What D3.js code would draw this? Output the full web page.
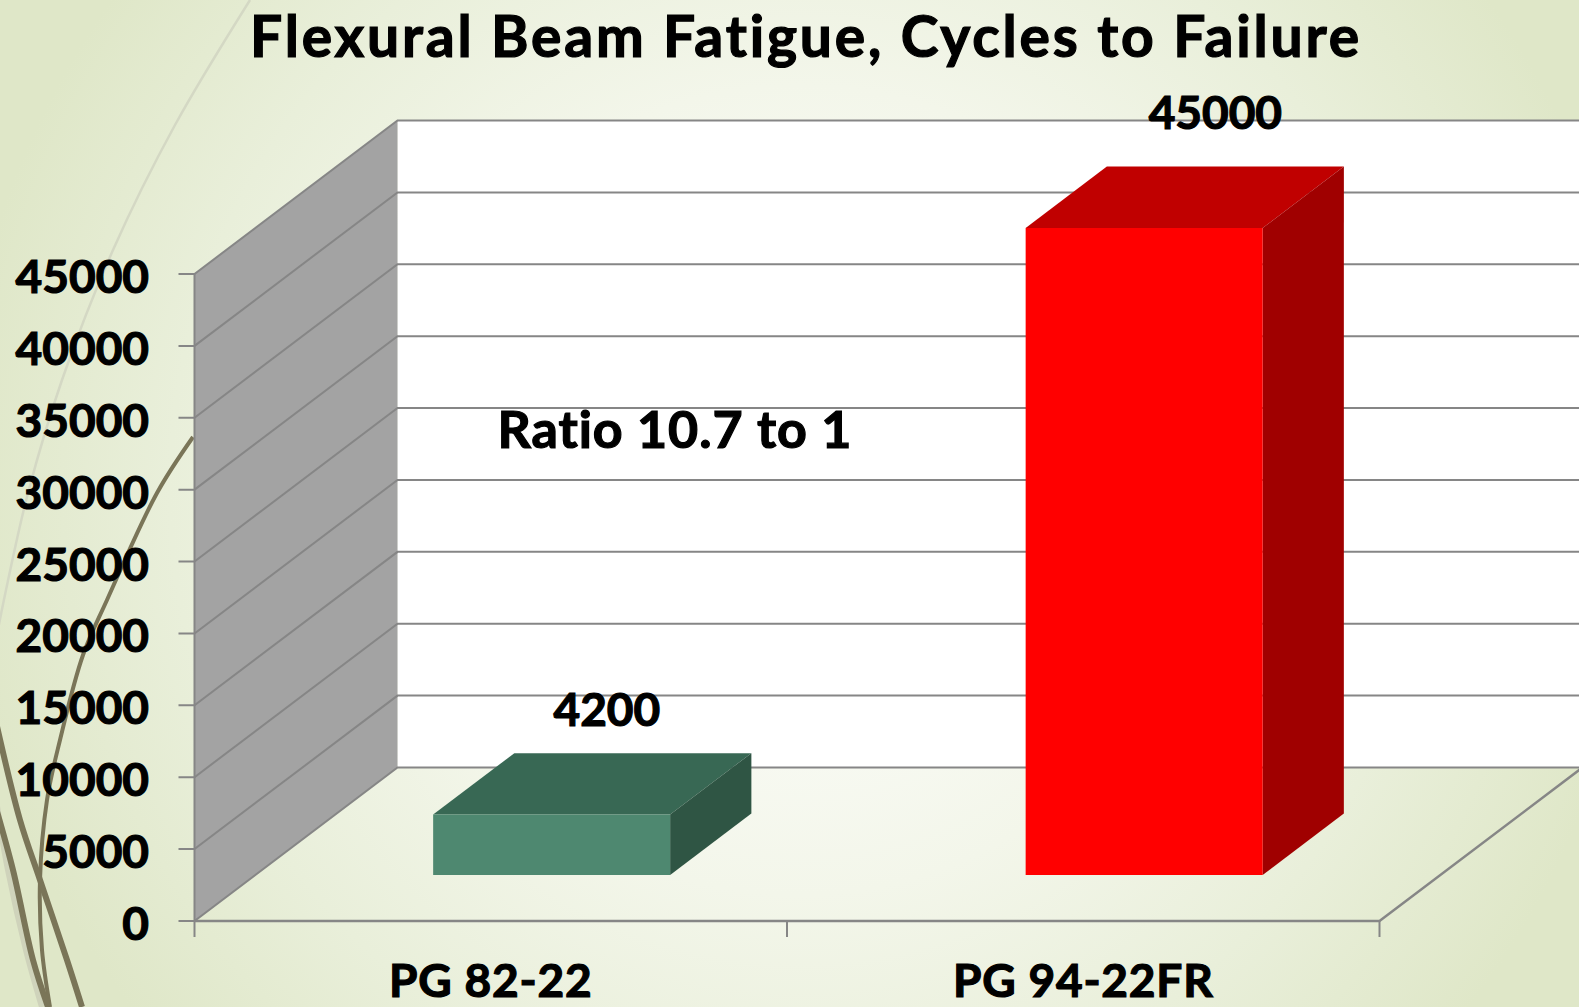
<!DOCTYPE html>
<html>
<head>
<meta charset="utf-8">
<script src="https://cdn.jsdelivr.net/npm/d3@7/dist/d3.min.js"></script>
<style>
html,body{margin:0;padding:0;overflow:hidden;background:#e3ebcf}
svg{display:block}
text{font-family:Lato,"Open Sans",sans-serif;font-weight:700;fill:#000;stroke:#000;stroke-width:1.2px;paint-order:stroke}
</style>
</head>
<body>
<script>
const categories = ["PG 82-22", "PG 94-22FR"];
const cycles = [4200, 45000];
const yTicks = [0, 5000, 10000, 15000, 20000, 25000, 30000, 35000, 40000, 45000];
const faceColors = [
  {front: "#4e8870", top: "#386854", side: "#2f5544"},
  {front: "#ff0000", top: "#c00000", side: "#a00000"}
];
const titleText = "Flexural Beam Fatigue, Cycles to Failure";
const noteText = "Ratio 10.7 to 1";
const labelNudges = [[-20, -1], [-4, -12]];

// Background ornaments (theme swooshes)
const swooshes = [
  {pts: [[250,0],[175,125],[113,250],[62,380],[28,493],[6,590],[-8,660]], color: "#d4d8c4", w: 2.5},
  {pts: [[-4,800],[8,870],[26,950],[42,1007]], color: "#cfd3bb", w: 6},
  {pts: [[193,437],[157,493],[107,600],[83,655],[60,740],[47,800],[40,880],[42,950],[50,1007]], color: "#7a7558", w: 4},
  {pts: [[-4,722],[20,820],[40,880],[67,960],[82,1007]], color: "#7a7558", w: 6},
  {pts: [[-4,808],[13,870],[33,960],[48,1007]], color: "#7a7558", w: 6}
];

const W = 1579, H = 1007;
const svg = d3.select("body").append("svg").attr("width", W).attr("height", H);

const defs = svg.append("defs");
const grad = defs.append("radialGradient").attr("id", "bg")
  .attr("gradientUnits", "userSpaceOnUse")
  .attr("cx", 800).attr("cy", 490).attr("r", 900);
grad.append("stop").attr("offset", "0").attr("stop-color", "#ffffff");
grad.append("stop").attr("offset", "0.45").attr("stop-color", "#f3f6ea");
grad.append("stop").attr("offset", "0.7").attr("stop-color", "#e9efda");
grad.append("stop").attr("offset", "0.94").attr("stop-color", "#dfe7c8");
svg.append("rect").attr("width", W).attr("height", H).attr("fill", "url(#bg)");

const curve = d3.line().curve(d3.curveCatmullRom);
svg.append("g").selectAll("path").data(swooshes).join("path")
  .attr("d", d => curve(d.pts)).attr("fill", "none")
  .attr("stroke", d => d.color).attr("stroke-width", d => d.w);

// Scales: x along the category axis, y for value, depth into the chart
const x = d3.scaleBand().domain(categories).range([194.5, 1379.5]);
const y = d3.scaleLinear().domain([0, 45000]).range([921, 274]);
const depthX = d3.scaleLinear().domain([0, 1]).range([0, 203]);
const depthY = d3.scaleLinear().domain([0, 1]).range([0, -153.5]);
const proj = (px, d, v) => [px + depthX(d), y(v) + depthY(d)];
const poly = d3.line();
const [x0, x1] = x.range();
const yMax = yTicks[yTicks.length - 1];

// Back wall
svg.append("path").attr("fill", "#ffffff")
  .attr("d", poly([proj(x0,1,0), proj(x0,1,yMax), [W,proj(x0,1,yMax)[1]], [W,proj(x0,1,0)[1]]]) + "Z");
// Side wall
svg.append("path").attr("fill", "#a3a3a3")
  .attr("d", poly([proj(x0,0,0), proj(x0,0,yMax), proj(x0,1,yMax), proj(x0,1,0)]) + "Z");

// Gridlines
const grid = svg.append("g").attr("fill", "none").attr("stroke", "#868686").attr("stroke-width", 2);
grid.selectAll("path").data(yTicks).join("path")
  .attr("d", t => poly([[x0 - 16, y(t)], proj(x0,0,t), proj(x0,1,t), [W, proj(x0,1,t)[1]]]));
grid.append("path").attr("d", poly([proj(x0,0,0), proj(x0,0,yMax)]));
// Floor front and right edges, category ticks
grid.append("path").attr("stroke-width", 2.5).attr("d", poly([proj(x0,0,0), proj(x1,0,0), proj(x1,1,0)]));
const catEdges = [x0, x(categories[1]), x1];
grid.selectAll("line").data(catEdges).join("line")
  .attr("x1", d => d).attr("x2", d => d).attr("y1", y(0)).attr("y2", y(0) + 16);

// Bars
const barW = x.bandwidth() * 0.4;
const d0 = 0.3, d1 = 0.7;
const bars = svg.append("g").selectAll("g").data(categories).join("g");
bars.each(function(c, i) {
  const g = d3.select(this), v = cycles[i], col = faceColors[i];
  const l = x(c) + (x.bandwidth() - barW) / 2, r = l + barW;
  g.append("path").attr("fill", col.top)
    .attr("d", poly([proj(l,d0,v), proj(r,d0,v), proj(r,d1,v), proj(l,d1,v)]) + "Z");
  g.append("path").attr("fill", col.side)
    .attr("d", poly([proj(r,d0,0), proj(r,d0,v), proj(r,d1,v), proj(r,d1,0)]) + "Z");
  g.append("path").attr("fill", col.front)
    .attr("d", poly([proj(l,d0,0), proj(l,d0,v), proj(r,d0,v), proj(r,d0,0)]) + "Z");
  g.append("text").attr("text-anchor", "middle").attr("font-size", 46)
    .attr("x", (l + r) / 2 + depthX(d1) - 6 + labelNudges[i][0])
    .attr("y", proj(l,d1,v)[1] - 26 + labelNudges[i][1])
    .text(v);
});

// Y tick labels
svg.append("g").selectAll("text").data(yTicks).join("text")
  .attr("text-anchor", "end").attr("font-size", 46)
  .attr("x", 149).attr("y", t => y(t) + 19).text(t => t);

// Category labels
svg.append("g").selectAll("text").data(categories).join("text")
  .attr("text-anchor", "middle").attr("font-size", 46).attr("letter-spacing", 0.8)
  .attr("x", c => x(c) + x.bandwidth() / 2).attr("y", 997).text(c => c);

// Title and note
svg.append("text").attr("x", 806).attr("y", 56.5).attr("text-anchor", "middle")
  .attr("font-size", 57).attr("letter-spacing", 2.8).text(titleText);
svg.append("text").attr("x", 675).attr("y", 448).attr("text-anchor", "middle")
  .attr("font-size", 52).attr("letter-spacing", 0.9).text(noteText);
</script>
</body>
</html>
